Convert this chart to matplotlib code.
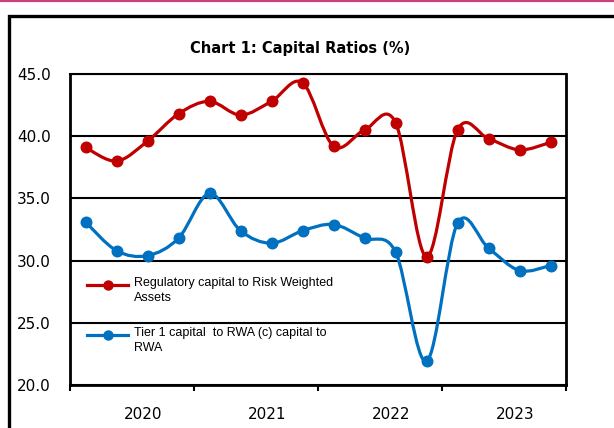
import numpy as np
import matplotlib
matplotlib.use("Agg")
import matplotlib.pyplot as plt
from matplotlib.path import Path
from matplotlib.patches import PathPatch, Rectangle
from matplotlib.lines import Line2D

plt.rcParams['font.family'] = ['Liberation Sans', 'DejaVu Sans']

title = "Chart 1: Capital Ratios (%)"
years = ["2020", "2021", "2022", "2023"]
quarters_per_year = 4
reg_capital = [39.1, 38.0, 39.6, 41.8, 42.8, 41.7, 42.8, 44.3,
               39.2, 40.5, 41.1, 30.3, 40.5, 39.8, 38.9, 39.5]
tier1 = [33.1, 30.8, 30.4, 31.8, 35.4, 32.4, 31.4, 32.4,
         32.9, 31.8, 30.7, 21.9, 33.0, 31.0, 29.2, 29.6]
labels = ["Regulatory capital to Risk Weighted\nAssets",
          "Tier 1 capital  to RWA (c) capital to\nRWA"]
colors = ["#C00000", "#0070C0"]

W, H = 614, 428
fig = plt.figure(figsize=(W / 100, H / 100), dpi=100)

# outer frame and top rule
fig.add_artist(Rectangle((9 / W, -0.1), 1.2, (H - 15.5) / H + 0.1, transform=fig.transFigure,
                         fill=False, edgecolor="black", linewidth=2.4, clip_on=False))
fig.add_artist(Line2D([0, 1], [(H - 1.2) / H] * 2, transform=fig.transFigure,
                      color="#C8437C", linewidth=1.6))

L, R, T, B = 70, 566, 74, 385
ax = fig.add_axes([L / W, (H - B) / H, (R - L) / W, (B - T) / H])

n = len(reg_capital)
x = np.arange(n) + 0.5


def smooth_path(xs, ys):
    pts = np.column_stack([xs, ys])
    verts = [pts[0]]
    codes = [Path.MOVETO]
    for i in range(len(pts) - 1):
        p0 = pts[i - 1] if i > 0 else pts[i]
        p1 = pts[i]
        p2 = pts[i + 1]
        p3 = pts[i + 2] if i + 2 < len(pts) else pts[i + 1]
        c1 = p1 + (p2 - p0) / 6.0
        c2 = p2 - (p3 - p1) / 6.0
        verts += [c1, c2, p2]
        codes += [Path.CURVE4] * 3
    return Path(verts, codes)


for ys, c in zip([reg_capital, tier1], colors):
    ax.add_patch(PathPatch(smooth_path(x, ys), fill=False, edgecolor=c,
                           linewidth=2.3, zorder=3, capstyle='round', joinstyle='round'))
    ax.plot(x, ys, linestyle='none', marker='o', markersize=7.6, color=c, zorder=4)

ax.set_xlim(0, n)
ax.set_ylim(20, 45)
yt = np.arange(20, 45.1, 5)
ax.set_yticks(yt)
ax.set_yticklabels([f"{v:.1f}" for v in yt], family=['DejaVu Sans'])
ax.yaxis.grid(True, color="black", linewidth=1.5)
ax.set_axisbelow(True)
ax.tick_params(axis='y', length=0, labelsize=11, pad=14)

ax.set_xticks(np.arange(0, n + 1, quarters_per_year))
ax.set_xticklabels([])
ax.tick_params(axis='x', which='major', direction='out', length=4, width=1.5)
ax.set_xticks(np.arange(len(years)) * quarters_per_year + 2.35, minor=True)
ax.set_xticklabels(years, minor=True, family=['DejaVu Sans'])
ax.tick_params(axis='x', which='minor', length=0, labelsize=11, pad=16)

for s in ["left", "bottom", "right"]:
    ax.spines[s].set_linewidth(2)
ax.spines["top"].set_linewidth(1.5)

fig.text(300 / W, (H - 48) / H, title, ha='center', va='center',
         fontsize=10.5, fontweight='bold', family=['DejaVu Sans'])

# legend drawn in pixel-aligned axes coordinates (handle aligned with first text line)
def px2ax(px, py):
    return (px - L) / (R - L), (B - py) / (B - T)

for (lab, c, yrow) in zip(labels, colors, [285, 335]):
    x0, y0 = px2ax(87, yrow)
    x1, _ = px2ax(128, yrow)
    ax.plot([x0, x1], [y0, y0], transform=ax.transAxes, color=c, linewidth=2.3, zorder=5)
    ax.plot([(x0 + x1) / 2], [y0], transform=ax.transAxes, color=c, marker='o',
            markersize=6.5, zorder=5)
    tx, ty = px2ax(134, yrow - 8)
    ax.text(tx, ty, lab, transform=ax.transAxes, fontsize=9, va='top', ha='left',
            linespacing=1.35, zorder=5)

fig.savefig("out.png", dpi=100)
